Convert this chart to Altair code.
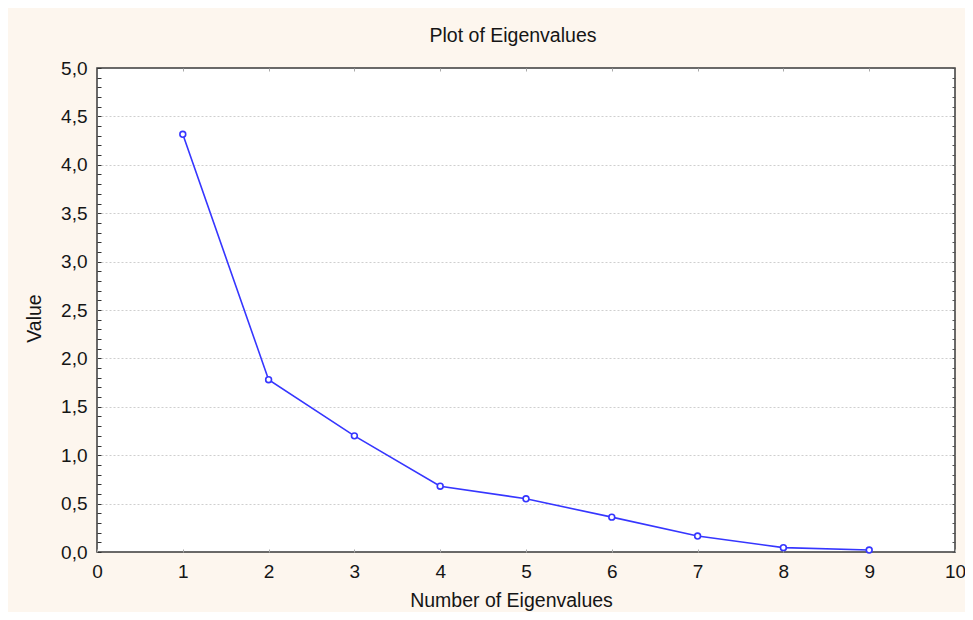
import altair as alt
import pandas as pd

# Data
eigen_number = [1, 2, 3, 4, 5, 6, 7, 8, 9]
eigen_value = [4.315, 1.78, 1.20, 0.68, 0.55, 0.36, 0.165, 0.045, 0.02]

x_tick_values = [0, 1, 2, 3, 4, 5, 6, 7, 8, 9, 10]
x_inner_ticks = [1, 2, 3, 4, 5, 6, 7, 8, 9]
y_tick_values = [round(i / 10, 1) for i in range(0, 51)]

df = pd.DataFrame({"n": eigen_number, "v": eigen_value})

FONT = "Liberation Sans"
BLUE = "#3636ff"
TEXT = "#151515"

label_expr = ("round(datum.value*10) % 5 == 0 ? "
              "replace(format(datum.value, '.1f'), '.', ',') : ''")

left_axis = alt.Axis(
    orient="left",
    values=y_tick_values,
    labelExpr=label_expr,
    labelOverlap=False,
    labelFlush=False,
    labelBound=False,
    labelFont=FONT,
    labelFontSize=19,
    labelColor=TEXT,
    labelPadding=10,
    tickSize=4,
    tickColor="#333333",
    tickWidth=1,
    offset=-4,
    domain=False,
    grid=True,
    gridColor="#cfcfcf",
    gridDash=[2, 2],
    gridWidth=1,
    gridOpacity={"condition": {"test": "round(datum.value*10) % 5 == 0 && datum.value > 0 && datum.value < 5",
                               "value": 1}, "value": 0},
    title="Value",
    titleFont=FONT,
    titleFontSize=19.5,
    titleFontWeight="normal",
    titleColor=TEXT,
    titleX=-67,
    titleY=250,
    titleAlign="center",
    titleBaseline="middle",
    titleAngle=270,
)

right_axis = alt.Axis(
    orient="right",
    values=y_tick_values,
    labels=False,
    tickSize=3,
    tickColor="#555555",
    offset=-3,
    domain=False,
    grid=False,
    title=None,
)

bottom_axis = alt.Axis(
    orient="bottom",
    values=x_tick_values,
    format="d",
    labelFont=FONT,
    labelFontSize=19,
    labelColor=TEXT,
    labelPadding=10,
    labelFlush=False,
    labelOverlap=False,
    tickSize=3,
    tickColor="#aaaaaa",
    offset=-3,
    domain=False,
    grid=False,
    title="Number of Eigenvalues",
    titleFont=FONT,
    titleFontSize=19.5,
    titleFontWeight="normal",
    titleColor=TEXT,
    titleX=414,
    titleY=51,
    titleAlign="center",
    titleBaseline="middle",
)

top_axis = alt.Axis(
    orient="top",
    values=x_inner_ticks,
    labels=False,
    tickSize=3,
    tickColor="#aaaaaa",
    offset=-3,
    domain=False,
    grid=False,
    title=None,
)

x_scale = alt.Scale(domain=[0, 10], nice=False, zero=False)
y_scale = alt.Scale(domain=[0, 5], nice=False, zero=False)

line = alt.Chart(df).mark_line(color=BLUE, strokeWidth=1.6).encode(
    x=alt.X("n:Q", scale=x_scale, axis=bottom_axis),
    y=alt.Y("v:Q", scale=y_scale, axis=left_axis),
)

points = alt.Chart(df).mark_point(
    shape="circle", filled=True, fill="white", stroke=BLUE,
    strokeWidth=1.6, size=34, opacity=1
).encode(
    x=alt.X("n:Q", scale=x_scale, axis=top_axis),
    y=alt.Y("v:Q", scale=y_scale, axis=right_axis),
)

chart = alt.layer(line, points).resolve_axis(
    x="independent", y="independent"
).properties(
    width=858,
    height=484,
    background="#fdf6ee",
    padding={"left": 89, "top": 60, "right": 10, "bottom": 60},
    autosize=alt.AutoSizeParams(type="none"),
    title=alt.TitleParams(
        "Plot of Eigenvalues",
        font=FONT,
        fontSize=19.5,
        fontWeight="normal",
        color=TEXT,
        anchor="middle",
        frame="group",
        baseline="alphabetic",
        offset=1,
        dx=-13,
        dy=3,
    ),
).configure_view(
    fill="white",
    stroke="#3a3a3a",
    strokeWidth=1.5,
)

chart.save("out.html", embed_options={"renderer": "svg", "actions": False})
